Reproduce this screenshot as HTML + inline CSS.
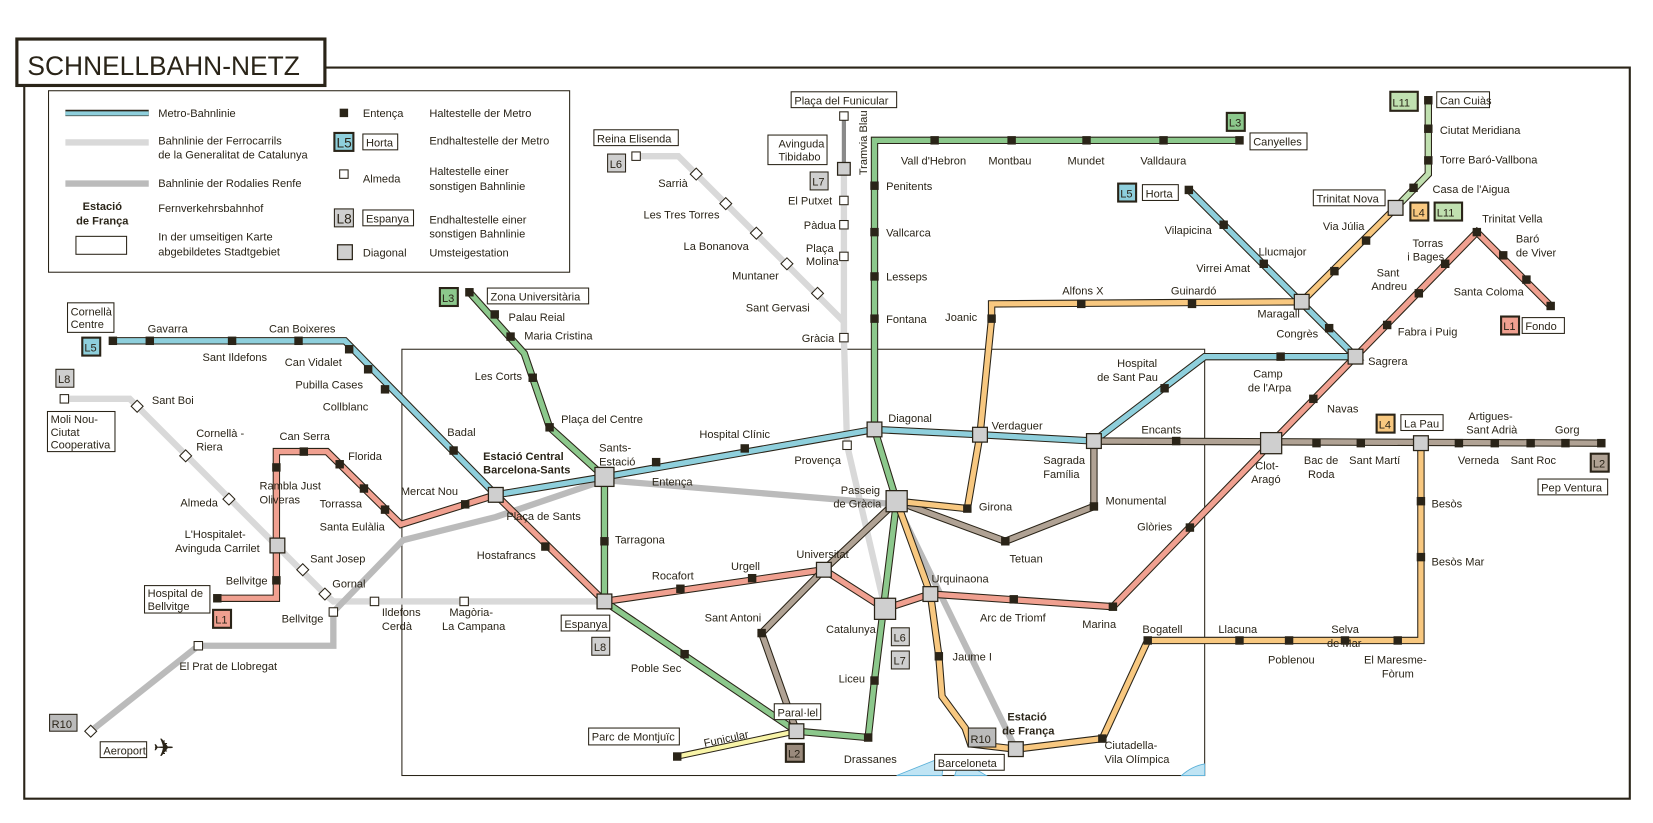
<!DOCTYPE html>
<html><head><meta charset="utf-8"><style>
html,body{margin:0;padding:0;background:#fff;}
svg{display:block;}
text{font-family:"Liberation Sans Narrow","Liberation Sans",sans-serif;font-size:10.5px;fill:#2a2418;}
.b{font-weight:bold;}
.o{fill:none;stroke:#2a2418;stroke-width:7;stroke-linejoin:miter;}
.c{fill:none;stroke-width:5;stroke-linejoin:miter;}
.s{fill:#2a2418;}
.t{fill:#cfcfcf;stroke:#2a2418;stroke-width:1.2;}
.w{fill:#fff;stroke:#2a2418;stroke-width:1;}
.bx{fill:#fff;stroke:#2a2418;stroke-width:1;}
</style></head><body>
<svg width="1653" height="823" viewBox="0 0 1567 780" preserveAspectRatio="none" xmlns="http://www.w3.org/2000/svg">
<polyline points="308,64 1545,64 1545,757 23,757 23,81" fill="none" stroke="#2a2418" stroke-width="2"/>
<rect x="16" y="37" width="292" height="44" fill="#fff" stroke="#2a2418" stroke-width="3"/>
<text x="26" y="71" style="font-family:'Liberation Sans',sans-serif;font-size:25px">SCHNELLBAHN-NETZ</text>
<rect x="46" y="86" width="494" height="172" fill="#fff" stroke="#2a2418" stroke-width="1"/>
<line x1="62" y1="107" x2="141" y2="107" stroke="#2a2418" stroke-width="6"/><line x1="62" y1="107.5" x2="141" y2="107.5" stroke="#8ecfdc" stroke-width="4"/>
<text x="150" y="111">Metro-Bahnlinie</text>
<line x1="62" y1="135" x2="141" y2="135" stroke="#d9d9d9" stroke-width="6"/>
<text x="150" y="137">Bahnlinie der Ferrocarrils</text><text x="150" y="150">de la Generalitat de Catalunya</text>
<line x1="62" y1="174" x2="141" y2="174" stroke="#bbb" stroke-width="6"/>
<text x="150" y="177">Bahnlinie der Rodalies Renfe</text>
<text x="97" y="199" class="b" text-anchor="middle">Estació</text><text x="97" y="213" class="b" text-anchor="middle">de França</text>
<text x="150" y="201">Fernverkehrsbahnhof</text>
<rect x="72" y="224" width="48" height="17" class="bx"/>
<text x="150" y="228">In der umseitigen Karte</text><text x="150" y="242">abgebildetes Stadtgebiet</text>
<rect x="322" y="103" width="8" height="8" class="s"/><text x="344" y="111">Entença</text><text x="407" y="111">Haltestelle der Metro</text>
<rect x="317" y="126" width="18" height="17" fill="#8ecfdc" stroke="#2a2418" stroke-width="2"/><text x="319" y="140" style="font-size:13px">L5</text>
<rect x="344" y="127" width="33" height="15" class="bx"/><text x="347" y="139">Horta</text><text x="407" y="137">Endhaltestelle der Metro</text>
<rect x="322" y="161" width="8" height="8" class="w"/><text x="344" y="173">Almeda</text><text x="407" y="166">Haltestelle einer</text><text x="407" y="180">sonstigen Bahnlinie</text>
<rect x="317" y="198" width="18" height="17" fill="#cfcfcf" stroke="#2a2418" stroke-width="1"/><text x="319" y="212" style="font-size:13px">L8</text>
<rect x="344" y="199" width="48" height="15" class="bx"/><text x="347" y="211">Espanya</text><text x="407" y="212">Endhaltestelle einer</text><text x="407" y="225">sonstigen Bahnlinie</text>
<rect x="320" y="232" width="14" height="14" class="t"/><text x="344" y="243">Diagonal</text><text x="407" y="243">Umsteigestation</text>
<rect x="381" y="331" width="761" height="404" fill="none" stroke="#2a2418" stroke-width="1"/>
<path d="M850,735 L895,717 L893,735 Z M905,735 L910,720 L935,735 Z M1120,735 Q1130,726 1142,724 L1142,735 Z" fill="#bfe4f4" stroke="#5ab0d8" stroke-width="0.8"/>

<g fill="none" stroke="#d9d9d9" stroke-width="6">
<polyline points="800,160 800,320 803,422 839,577"/>
<polyline points="603,148 643,148 800,305 800,320"/>
<polyline points="573,570 316,570 308,563 123,378 61,378"/>
</g>
<line x1="800" y1="110" x2="800" y2="160" stroke="#8a8a8a" stroke-width="4"/>
<g fill="none" stroke="#bbb" stroke-width="6">
<polyline points="573,455 850,478"/>
<polyline points="573,455 470,490 382,512 316,580 316,612 188,612 86,693"/>
<polyline points="850,478 963,710"/>
</g>
<line x1="642" y1="717" x2="755" y2="693" stroke="#2a2418" stroke-width="6"/><line x1="642" y1="717" x2="755" y2="693" stroke="#f8f4a8" stroke-width="4"/>

<polyline class="o" points="107,323 327,323 470,469 573,452 829,407 929,412 1037,418 1142,338 1285,338 1127,180"/>
<polyline class="c" stroke="#8ecfdc" points="107,323 327,323 470,469 573,452 829,407 929,412 1037,418 1142,338 1285,338 1127,180"/>
<polyline class="o" points="445,277 497,335 521,405 573,452 573,570 755,693 823,699 829,645 850,475 829,407 829,133 1175,133"/>
<polyline class="c" stroke="#8cc88c" points="445,277 497,335 521,405 573,452 573,570 755,693 823,699 829,645 850,475 829,407 829,133 1175,133"/>
<polyline class="o" points="206,567 262,567 262,428 310,428 380,497 470,469 573,570 781,540 839,577 882,563 1055,575 1205,420 1400,220 1470,290"/>
<polyline class="c" stroke="#f0a090" points="206,567 262,567 262,428 310,428 380,497 470,469 573,570 781,540 839,577 882,563 1055,575 1205,420 1400,220 1470,290"/>
<polyline class="o" points="755,693 722,600 781,540 850,475 953,513 1037,480 1037,418 1520,420"/>
<polyline class="c" stroke="#b0a294" points="755,693 722,600 781,540 850,475 953,513 1037,480 1037,418 1520,420"/>
<polyline class="o" points="1323,197 1234,286 940,288 940,302 929,412 917,482 850,475 882,563 890,622 893,660 915,690 920,705 963,710 1045,700 1088,607 1347,607 1347,420"/>
<polyline class="c" stroke="#f8c880" points="1323,197 1234,286 940,288 940,302 929,412 917,482 850,475 882,563 890,622 893,660 915,690 920,705 963,710 1045,700 1088,607 1347,607 1347,420"/>
<polyline class="o" points="1323,197 1354,165 1354,95"/>
<polyline class="c" stroke="#c0e0b0" points="1323,197 1354,165 1354,95"/>

<g class="s">
<rect x="103" y="319" width="8" height="8"/><rect x="138" y="319" width="8" height="8"/><rect x="216" y="319" width="8" height="8"/><rect x="279" y="319" width="8" height="8"/>
<rect x="327" y="327" width="8" height="8"/><rect x="345" y="346" width="8" height="8"/><rect x="361" y="365" width="8" height="8"/><rect x="426" y="423" width="8" height="8"/>
<rect x="618" y="434" width="8" height="8"/><rect x="702" y="421" width="8" height="8"/><rect x="1156" y="209" width="8" height="8"/><rect x="1194" y="246" width="8" height="8"/>
<rect x="1256" y="307" width="8" height="8"/><rect x="1123" y="176" width="8" height="8"/><rect x="1210" y="334" width="8" height="8"/><rect x="1100" y="364" width="8" height="8"/>
<rect x="441" y="273" width="8" height="8"/><rect x="465" y="294" width="8" height="8"/><rect x="480" y="315" width="8" height="8"/><rect x="501" y="354" width="8" height="8"/><rect x="517" y="401" width="8" height="8"/>
<rect x="569" y="509" width="8" height="8"/><rect x="645" y="616" width="8" height="8"/><rect x="819" y="695" width="8" height="8"/><rect x="825" y="641" width="8" height="8"/>
<rect x="825" y="298" width="8" height="8"/><rect x="825" y="258" width="8" height="8"/><rect x="825" y="216" width="8" height="8"/><rect x="825" y="172" width="8" height="8"/>
<rect x="882" y="129" width="8" height="8"/><rect x="955" y="129" width="8" height="8"/><rect x="1026" y="129" width="8" height="8"/><rect x="1099" y="129" width="8" height="8"/><rect x="1171" y="129" width="8" height="8"/>
<rect x="202" y="563" width="8" height="8"/><rect x="258" y="546" width="8" height="8"/><rect x="258" y="439" width="8" height="8"/><rect x="284" y="424" width="8" height="8"/>
<rect x="318" y="436" width="8" height="8"/><rect x="341" y="459" width="8" height="8"/><rect x="361" y="479" width="8" height="8"/><rect x="437" y="474" width="8" height="8"/><rect x="513" y="514" width="8" height="8"/>
<rect x="641" y="554" width="8" height="8"/><rect x="709" y="544" width="8" height="8"/><rect x="957" y="564" width="8" height="8"/><rect x="1051" y="571" width="8" height="8"/><rect x="1124" y="496" width="8" height="8"/>
<rect x="1241" y="374" width="8" height="8"/><rect x="1311" y="304" width="8" height="8"/><rect x="1341" y="274" width="8" height="8"/><rect x="1366" y="246" width="8" height="8"/><rect x="1396" y="216" width="8" height="8"/>
<rect x="1421" y="238" width="8" height="8"/><rect x="1443" y="261" width="8" height="8"/><rect x="1466" y="286" width="8" height="8"/>
<rect x="718" y="596" width="8" height="8"/><rect x="949" y="509" width="8" height="8"/><rect x="1033" y="476" width="8" height="8"/><rect x="1111" y="414" width="8" height="8"/>
<rect x="1244" y="416" width="8" height="8"/><rect x="1286" y="416" width="8" height="8"/><rect x="1379" y="416" width="8" height="8"/><rect x="1413" y="416" width="8" height="8"/><rect x="1447" y="416" width="8" height="8"/><rect x="1480" y="416" width="8" height="8"/><rect x="1514" y="416" width="8" height="8"/>
<rect x="1291" y="224" width="8" height="8"/><rect x="1261" y="253" width="8" height="8"/><rect x="1126" y="284" width="8" height="8"/><rect x="1021" y="284" width="8" height="8"/><rect x="936" y="298" width="8" height="8"/>
<rect x="913" y="478" width="8" height="8"/><rect x="886" y="618" width="8" height="8"/><rect x="1041" y="696" width="8" height="8"/><rect x="1084" y="603" width="8" height="8"/>
<rect x="1171" y="603" width="8" height="8"/><rect x="1218" y="603" width="8" height="8"/><rect x="1271" y="603" width="8" height="8"/><rect x="1321" y="603" width="8" height="8"/><rect x="1343" y="524" width="8" height="8"/><rect x="1343" y="471" width="8" height="8"/>
<rect x="1336" y="174" width="8" height="8"/><rect x="1350" y="148" width="8" height="8"/><rect x="1350" y="118" width="8" height="8"/><rect x="1350" y="91" width="8" height="8"/>
<rect x="638" y="713" width="8" height="8"/>
</g>
<g class="w">
<rect x="796" y="106" width="8" height="8"/><rect x="796" y="186" width="8" height="8"/><rect x="796" y="209" width="8" height="8"/><rect x="796" y="239" width="8" height="8"/><rect x="796" y="316" width="8" height="8"/><rect x="799" y="418" width="8" height="8"/>
<rect x="599" y="144" width="8" height="8"/><rect x="57" y="374" width="8" height="8"/><rect x="351" y="566" width="8" height="8"/><rect x="436" y="566" width="8" height="8"/><rect x="312" y="576" width="8" height="8"/><rect x="184" y="608" width="8" height="8"/>
<rect x="656" y="161" width="8" height="8" transform="rotate(45 660 165)"/><rect x="684" y="189" width="8" height="8" transform="rotate(45 688 193)"/><rect x="713" y="217" width="8" height="8" transform="rotate(45 717 221)"/>
<rect x="742" y="246" width="8" height="8" transform="rotate(45 746 250)"/><rect x="771" y="274" width="8" height="8" transform="rotate(45 775 278)"/><rect x="126" y="381" width="8" height="8" transform="rotate(45 130 385)"/>
<rect x="172" y="428" width="8" height="8" transform="rotate(45 176 432)"/><rect x="213" y="469" width="8" height="8" transform="rotate(45 217 473)"/><rect x="283" y="536" width="8" height="8" transform="rotate(45 287 540)"/>
<rect x="304" y="559" width="8" height="8" transform="rotate(45 308 563)"/><rect x="82" y="689" width="8" height="8" transform="rotate(45 86 693)"/>
</g>
<g class="t">
<rect x="564" y="443" width="18" height="18"/><rect x="463" y="462" width="14" height="14"/><rect x="566" y="563" width="14" height="14"/><rect x="822" y="400" width="14" height="14"/>
<rect x="922" y="405" width="14" height="14"/><rect x="1030" y="411" width="14" height="14"/><rect x="840" y="465" width="20" height="20"/><rect x="774" y="533" width="14" height="14"/>
<rect x="829" y="567" width="20" height="20"/><rect x="875" y="556" width="14" height="14"/><rect x="748" y="686" width="14" height="14"/><rect x="956" y="703" width="14" height="14"/>
<rect x="1195" y="410" width="20" height="20"/><rect x="1278" y="331" width="14" height="14"/><rect x="1227" y="279" width="14" height="14"/><rect x="1316" y="190" width="14" height="14"/>
<rect x="1340" y="413" width="14" height="14"/><rect x="256" y="510" width="14" height="14"/><rect x="794" y="154" width="12" height="12"/>
</g>
<text x="145" y="717" style="font-family:'DejaVu Sans',sans-serif;font-size:24px">✈</text>

<g style="font-size:12.5px">
<rect x="78" y="320" width="17" height="17" fill="#8ecfdc" stroke="#2a2418" stroke-width="2"/><text x="80" y="333">L5</text>
<rect x="53" y="350" width="17" height="17" fill="#cfcfcf" stroke="#2a2418"/><text x="55" y="363">L8</text>
<rect x="417" y="273" width="17" height="17" fill="#8cc88c" stroke="#2a2418" stroke-width="2"/><text x="419" y="286">L3</text>
<rect x="202" y="578" width="17" height="17" fill="#f0a090" stroke="#2a2418" stroke-width="2"/><text x="204" y="591">L1</text>
<rect x="47" y="677" width="26" height="16" fill="#bbb" stroke="#2a2418"/><text x="49" y="690">R10</text>
<rect x="745" y="705" width="17" height="17" fill="#9a8a7c" stroke="#2a2418" stroke-width="2"/><text x="747" y="718">L2</text>
<rect x="845" y="595" width="17" height="17" fill="#cfcfcf" stroke="#2a2418"/><text x="847" y="608">L6</text>
<rect x="845" y="617" width="17" height="17" fill="#cfcfcf" stroke="#2a2418"/><text x="847" y="630">L7</text>
<rect x="561" y="604" width="17" height="17" fill="#cfcfcf" stroke="#2a2418"/><text x="563" y="617">L8</text>
<rect x="918" y="690" width="26" height="18" fill="#bbb" stroke="#2a2418"/><text x="920" y="704">R10</text>
<rect x="768" y="163" width="17" height="17" fill="#cfcfcf" stroke="#2a2418"/><text x="770" y="176">L7</text>
<rect x="576" y="146" width="17" height="17" fill="#cfcfcf" stroke="#2a2418"/><text x="578" y="159">L6</text>
<rect x="1163" y="107" width="17" height="17" fill="#8cc88c" stroke="#2a2418" stroke-width="2"/><text x="1165" y="120">L3</text>
<rect x="1060" y="174" width="17" height="17" fill="#8ecfdc" stroke="#2a2418" stroke-width="2"/><text x="1062" y="187">L5</text>
<rect x="1318" y="87" width="26" height="18" fill="#c0e0b0" stroke="#2a2418" stroke-width="2"/><text x="1320" y="101">L11</text>
<rect x="1337" y="192" width="17" height="17" fill="#f8c880" stroke="#2a2418" stroke-width="2"/><text x="1339" y="205">L4</text>
<rect x="1360" y="192" width="26" height="17" fill="#c0e0b0" stroke="#2a2418" stroke-width="2"/><text x="1362" y="205">L11</text>
<rect x="1423" y="300" width="17" height="17" fill="#f0a090" stroke="#2a2418" stroke-width="2"/><text x="1425" y="313">L1</text>
<rect x="1305" y="393" width="17" height="17" fill="#f8c880" stroke="#2a2418" stroke-width="2"/><text x="1307" y="406">L4</text>
<rect x="1508" y="430" width="17" height="17" fill="#b0a294" stroke="#2a2418" stroke-width="2"/><text x="1510" y="443">L2</text>
</g>
<g>
<rect x="64" y="287" width="44" height="28" class="bx"/><text x="67" y="299">Cornellà</text><text x="67" y="311">Centre</text>
<rect x="45" y="390" width="64" height="38" class="bx"/><text x="48" y="401">Moli Nou-</text><text x="48" y="413">Ciutat</text><text x="48" y="425">Cooperativa</text>
<rect x="462" y="273" width="96" height="15" class="bx"/><text x="465" y="285">Zona Universitària</text>
<rect x="137" y="555" width="62" height="26" class="bx"/><text x="140" y="566">Hospital de</text><text x="140" y="578">Bellvitge</text>
<rect x="95" y="703" width="44" height="15" class="bx"/><text x="98" y="715">Aeroport</text>
<rect x="558" y="690" width="86" height="16" class="bx"/><text x="561" y="702">Parc de Montjuïc</text>
<rect x="734" y="667" width="44" height="15" class="bx"/><text x="737" y="679">Paral·lel</text>
<rect x="532" y="583" width="46" height="15" class="bx"/><text x="535" y="595">Espanya</text>
<rect x="886" y="715" width="66" height="15" class="bx"/><text x="889" y="727">Barceloneta</text>
<rect x="750" y="87" width="100" height="15" class="bx"/><text x="753" y="99">Plaça del Funicular</text>
<rect x="728" y="128" width="56" height="28" class="bx"/><text x="738" y="140">Avinguda</text><text x="738" y="152">Tibidabo</text>
<rect x="563" y="123" width="80" height="15" class="bx"/><text x="566" y="135">Reina Elisenda</text>
<rect x="1185" y="126" width="54" height="16" class="bx"/><text x="1188" y="138">Canyelles</text>
<rect x="1083" y="175" width="34" height="15" class="bx"/><text x="1086" y="187">Horta</text>
<rect x="1362" y="87" width="50" height="15" class="bx"/><text x="1365" y="99">Can Cuiàs</text>
<rect x="1245" y="180" width="68" height="15" class="bx"/><text x="1248" y="192">Trinitat Nova</text>
<rect x="1443" y="301" width="40" height="15" class="bx"/><text x="1446" y="313">Fondo</text>
<rect x="1328" y="393" width="40" height="15" class="bx"/><text x="1331" y="405">La Pau</text>
<rect x="1458" y="454" width="66" height="15" class="bx"/><text x="1461" y="466">Pep Ventura</text>
</g>
<g>
<text x="140" y="315">Gavarra</text><text x="192" y="342">Sant Ildefons</text><text x="255" y="315">Can Boixeres</text>
<text x="270" y="347">Can Vidalet</text><text x="280" y="368">Pubilla Cases</text><text x="306" y="389">Collblanc</text><text x="424" y="413">Badal</text>
<text x="144" y="383">Sant Boi</text><text x="186" y="414">Cornellà -</text><text x="186" y="427">Riera</text><text x="171" y="480">Almeda</text>
<text x="265" y="417">Can Serra</text><text x="330" y="436">Florida</text><text x="246" y="464">Rambla Just</text><text x="246" y="477">Oliveras</text>
<text x="303" y="481">Torrassa</text><text x="303" y="503">Santa Eulàlia</text><text x="380" y="469">Mercat Nou</text>
<text x="175" y="510">L'Hospitalet-</text><text x="166" y="523">Avinguda Carrilet</text><text x="294" y="533">Sant Josep</text>
<text x="214" y="554">Bellvitge</text><text x="315" y="557">Gornal</text><text x="267" y="590">Bellvitge</text>
<text x="362" y="584">Ildefons</text><text x="362" y="597">Cerdà</text><text x="426" y="584">Magòria-</text><text x="419" y="597">La Campana</text>
<text x="170" y="635">El Prat de Llobregat</text>
<text x="482" y="304">Palau Reial</text><text x="497" y="322">Maria Cristina</text><text x="450" y="360">Les Corts</text><text x="532" y="401">Plaça del Centre</text>
<text x="458" y="436" class="b">Estació Central</text><text x="458" y="449" class="b">Barcelona-Sants</text>
<text x="568" y="428">Sants-</text><text x="568" y="441">Estació</text><text x="480" y="493">Plaça de Sants</text><text x="452" y="530">Hostafrancs</text>
<text x="618" y="460">Entença</text><text x="663" y="415">Hospital Clínic</text><text x="583" y="515">Tarragona</text>
<text x="618" y="549">Rocafort</text><text x="693" y="540">Urgell</text><text x="755" y="529">Universitat</text><text x="668" y="589">Sant Antoni</text>
<text x="598" y="637">Poble Sec</text><text x="668" y="708" transform="rotate(-12 668 708)">Funicular</text><text x="800" y="723">Drassanes</text>
<text x="783" y="600">Catalunya</text><text x="795" y="647">Liceu</text><text x="753" y="440">Provença</text>
<text x="797" y="468">Passeig</text><text x="790" y="481">de Gràcia</text><text x="842" y="400">Diagonal</text><text x="940" y="407">Verdaguer</text>
<text x="928" y="484">Girona</text><text x="957" y="533">Tetuan</text><text x="883" y="552">Urquinaona</text><text x="929" y="589">Arc de Triomf</text>
<text x="1026" y="595">Marina</text><text x="903" y="626">Jaume I</text>
<text x="955" y="683" class="b">Estació</text><text x="950" y="696" class="b">de França</text>
<text x="1047" y="710">Ciutadella-</text><text x="1047" y="723">Vila Olímpica</text>
<text x="1083" y="600">Bogatell</text><text x="1155" y="600">Llacuna</text><text x="1202" y="629">Poblenou</text>
<text x="1262" y="600">Selva</text><text x="1258" y="613">de Mar</text><text x="1293" y="629">El Maresme-</text><text x="1310" y="642">Fòrum</text>
<text x="1357" y="536">Besòs Mar</text><text x="1357" y="481">Besòs</text>
<text x="747" y="194">El Putxet</text><text x="762" y="217">Pàdua</text><text x="764" y="239">Plaça</text><text x="764" y="251">Molina</text><text x="760" y="324">Gràcia</text>
<text x="624" y="177">Sarrià</text><text x="610" y="207">Les Tres Torres</text><text x="648" y="237">La Bonanova</text><text x="694" y="265">Muntaner</text><text x="707" y="295">Sant Gervasi</text>
<text x="822" y="166" transform="rotate(-90 822 166)">Tramvia Blau</text>
<text x="840" y="180">Penitents</text><text x="840" y="224">Vallcarca</text><text x="840" y="266">Lesseps</text><text x="840" y="306">Fontana</text>
<text x="854" y="156">Vall d'Hebron</text><text x="937" y="156">Montbau</text><text x="1012" y="156">Mundet</text><text x="1081" y="156">Valldaura</text>
<text x="896" y="304">Joanic</text><text x="1007" y="279">Alfons X</text><text x="1110" y="279">Guinardó</text>
<text x="1104" y="222">Vilapicina</text><text x="1134" y="258">Virrei Amat</text><text x="1192" y="301">Maragall</text><text x="1210" y="320">Congrès</text>
<text x="1254" y="218">Via Júlia</text><text x="1193" y="242">Llucmajor</text>
<text x="1365" y="127">Ciutat Meridiana</text><text x="1365" y="155">Torre Baró-Vallbona</text><text x="1358" y="183">Casa de l'Aigua</text>
<text x="1405" y="211">Trinitat Vella</text><text x="1339" y="234">Torras</text><text x="1334" y="247">i Bages</text><text x="1437" y="230">Baró</text><text x="1437" y="243">de Viver</text>
<text x="1305" y="262">Sant</text><text x="1300" y="275">Andreu</text><text x="1378" y="280">Santa Coloma</text><text x="1325" y="318">Fabra i Puig</text><text x="1297" y="346">Sagrera</text>
<text x="1059" y="348">Hospital</text><text x="1040" y="361">de Sant Pau</text><text x="1188" y="358">Camp</text><text x="1183" y="371">de l'Arpa</text><text x="1258" y="391">Navas</text>
<text x="1082" y="411">Encants</text><text x="989" y="440">Sagrada</text><text x="989" y="453">Família</text><text x="1048" y="478">Monumental</text><text x="1078" y="503">Glòries</text>
<text x="1190" y="445">Clot-</text><text x="1186" y="458">Aragó</text><text x="1236" y="440">Bac de</text><text x="1240" y="453">Roda</text><text x="1279" y="440">Sant Martí</text>
<text x="1382" y="440">Verneda</text><text x="1392" y="398">Artigues-</text><text x="1390" y="411">Sant Adrià</text><text x="1432" y="440">Sant Roc</text><text x="1474" y="411">Gorg</text>
</g>
</svg>
</body></html>
